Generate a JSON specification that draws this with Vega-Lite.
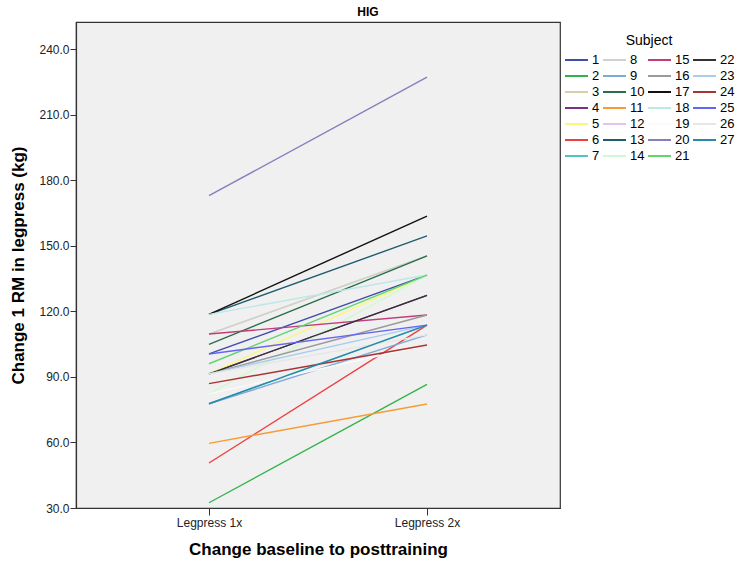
{
  "$schema": "https://vega.github.io/schema/vega-lite/v6.json",
  "autosize": "none",
  "padding": {"left": 76, "top": 22, "right": 178, "bottom": 58},
  "width": 484,
  "height": 486,
  "background": "#ffffff",
  "config": {
    "font": "Liberation Sans",
    "view": {"fill": "#F0F0F0", "stroke": "#333333", "strokeWidth": 1.2}
  },
  "title": {"text": "HIG", "fontSize": 12, "fontWeight": "bold", "color": "#000000", "anchor": "middle", "dx": 50, "offset": 3},
  "data": {
    "values": [
      {"subject": "1", "time": "Legpress 1x", "value": 100.5}, {"subject": "1", "time": "Legpress 2x", "value": 136.6},
      {"subject": "2", "time": "Legpress 1x", "value": 32.4}, {"subject": "2", "time": "Legpress 2x", "value": 86.6},
      {"subject": "3", "time": "Legpress 1x", "value": 109.6}, {"subject": "3", "time": "Legpress 2x", "value": 145.4},
      {"subject": "4", "time": "Legpress 1x", "value": 91.4}, {"subject": "4", "time": "Legpress 2x", "value": 127.3},
      {"subject": "5", "time": "Legpress 1x", "value": 91.4}, {"subject": "5", "time": "Legpress 2x", "value": 136.6},
      {"subject": "6", "time": "Legpress 1x", "value": 50.6}, {"subject": "6", "time": "Legpress 2x", "value": 113.7},
      {"subject": "7", "time": "Legpress 1x", "value": 77.7}, {"subject": "7", "time": "Legpress 2x", "value": 113.7},
      {"subject": "8", "time": "Legpress 1x", "value": 109.6}, {"subject": "8", "time": "Legpress 2x", "value": 145.4},
      {"subject": "9", "time": "Legpress 1x", "value": 77.7}, {"subject": "9", "time": "Legpress 2x", "value": 109.2},
      {"subject": "10", "time": "Legpress 1x", "value": 104.9}, {"subject": "10", "time": "Legpress 2x", "value": 145.4},
      {"subject": "11", "time": "Legpress 1x", "value": 59.6}, {"subject": "11", "time": "Legpress 2x", "value": 77.6},
      {"subject": "13", "time": "Legpress 1x", "value": 118.6}, {"subject": "13", "time": "Legpress 2x", "value": 154.5},
      {"subject": "14", "time": "Legpress 1x", "value": 82.2}, {"subject": "14", "time": "Legpress 2x", "value": 136.6},
      {"subject": "15", "time": "Legpress 1x", "value": 109.6}, {"subject": "15", "time": "Legpress 2x", "value": 118.3},
      {"subject": "16", "time": "Legpress 1x", "value": 91.4}, {"subject": "16", "time": "Legpress 2x", "value": 118.3},
      {"subject": "17", "time": "Legpress 1x", "value": 118.6}, {"subject": "17", "time": "Legpress 2x", "value": 163.6},
      {"subject": "18", "time": "Legpress 1x", "value": 118.6}, {"subject": "18", "time": "Legpress 2x", "value": 136.6},
      {"subject": "19", "time": "Legpress 1x", "value": 82.2}, {"subject": "19", "time": "Legpress 2x", "value": 104.6},
      {"subject": "20", "time": "Legpress 1x", "value": 172.9}, {"subject": "20", "time": "Legpress 2x", "value": 227.2},
      {"subject": "21", "time": "Legpress 1x", "value": 96.0}, {"subject": "21", "time": "Legpress 2x", "value": 136.6},
      {"subject": "22", "time": "Legpress 1x", "value": 91.4}, {"subject": "22", "time": "Legpress 2x", "value": 127.3},
      {"subject": "23", "time": "Legpress 1x", "value": 91.4}, {"subject": "23", "time": "Legpress 2x", "value": 113.7},
      {"subject": "24", "time": "Legpress 1x", "value": 86.9}, {"subject": "24", "time": "Legpress 2x", "value": 104.6},
      {"subject": "25", "time": "Legpress 1x", "value": 100.5}, {"subject": "25", "time": "Legpress 2x", "value": 113.7},
      {"subject": "26", "time": "Legpress 1x", "value": 91.4}, {"subject": "26", "time": "Legpress 2x", "value": 109.2},
      {"subject": "27", "time": "Legpress 1x", "value": 77.7}, {"subject": "27", "time": "Legpress 2x", "value": 113.7}
    ]
  },
  "mark": {"type": "line", "strokeWidth": 1.4},
  "encoding": {
    "x": {
      "field": "time", "type": "nominal",
      "scale": {"type": "point", "padding": 0.61},
      "axis": {
        "title": "Change baseline to posttraining", "titleFontSize": 17, "titleFontWeight": "bold", "titleColor": "#000000", "titlePadding": 13,
        "labelAngle": 0, "labelFontSize": 12, "labelColor": "#222222", "labelPadding": 2,
        "tickSize": 7, "tickColor": "#333333", "domainColor": "#333333", "domainWidth": 1.2, "grid": false
      }
    },
    "y": {
      "field": "value", "type": "quantitative",
      "scale": {"domain": [30, 252.4], "nice": false, "zero": false},
      "axis": {
        "title": "Change 1 RM in legpress (kg)", "titleFontSize": 17, "titleFontWeight": "bold", "titleColor": "#000000", "titlePadding": 11,
        "values": [30, 60, 90, 120, 150, 180, 210, 240], "format": ".1f",
        "labelFontSize": 12, "labelColor": "#222222", "labelPadding": 1,
        "tickSize": 6, "tickColor": "#333333", "domainColor": "#333333", "domainWidth": 1.2, "grid": false
      }
    },
    "color": {
      "field": "subject", "type": "nominal",
      "scale": {
        "domain": ["1","2","3","4","5","6","7","8","9","10","11","12","13","14","15","16","17","18","19","20","21","22","23","24","25","26","27"],
        "range": ["#3E4FA8","#32B44A","#D6D1A4","#7D2F86","#FBF77A","#EE3E3E","#4EC4C4","#D0D0D0","#7EA9DA","#2A6E4A","#F79B34","#E2C2EE","#1F5C6E","#CFF9CF","#C23B7A","#9A9A9A","#111111","#BDE7E8","#FAFAFA","#8580BD","#62D56F","#333333","#A8CDEF","#A93232","#6565F5","#E6E6E6","#2A88AA"]
      },
      "legend": {
        "title": "Subject", "titleFontSize": 14, "titleFontWeight": "normal", "titleColor": "#000000", "titleAnchor": "middle", "titlePadding": 4,
        "orient": "none", "legendX": 488, "legendY": 12, "columns": 4, "columnPadding": 2, "rowPadding": 0, "clipHeight": 16, "padding": 0,
        "symbolType": "stroke", "symbolSize": 529, "symbolStrokeWidth": 2, "symbolOpacity": 1,
        "labelFontSize": 13, "labelColor": "#000000", "labelOffset": 3
      }
    }
  }
}
